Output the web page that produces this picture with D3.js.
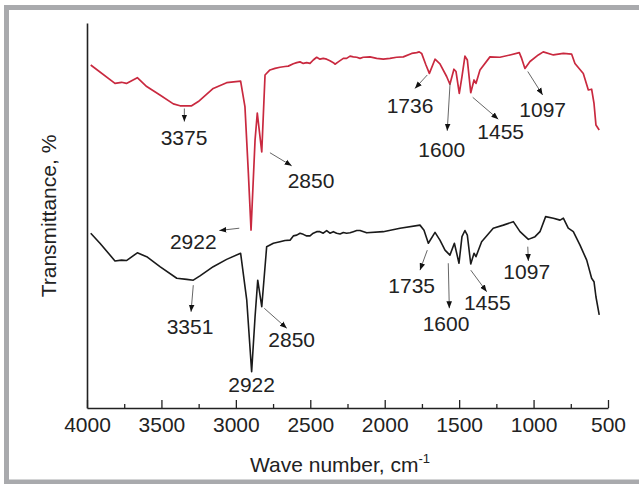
<!DOCTYPE html>
<html><head><meta charset="utf-8">
<script src="https://cdn.jsdelivr.net/npm/d3@7"></script>
<style>body{margin:0;background:#fff;} svg{display:block;font-family:"Liberation Sans",Arial,sans-serif;}</style>
</head><body>
<svg id="c" width="639" height="484"></svg>
<script>
// Wavenumber (cm-1) and transmittance (arbitrary %, offset traces)
const redWave = [3975,3812,3768,3735,3662,3599,3510,3420,3375,3297,3252,3152,3062,2968,2939,2916,2898,2871,2856,2826,2804,2771,2737,2704,2670,2648,2614,2591,2569,2547,2524,2502,2480,2457,2435,2413,2390,2368,2345,2334,2312,2278,2256,2233,2211,2188,2166,2144,2099,2054,2010,1965,1920,1875,1819,1785,1768,1752,1723,1700,1662,1629,1584,1562,1535,1521,1499,1481,1461,1445,1422,1400,1387,1360,1293,1226,1158,1096,1080,1058,1024,968,935,867,800,744,722,666,632,610,594,581,559];
const redT = [89.1,84.3,84.6,84.3,85.8,83.5,81.3,79.0,78.5,78.5,79.6,83.0,84.5,84.9,78.3,61.0,46.2,69.6,76.6,66.5,86.5,87.8,88.2,88.5,88.7,88.8,89.4,89.7,89.9,89.5,89.7,89.5,90.4,91.1,90.6,90.8,90.6,90.2,89.7,89.3,89.9,90.8,90.8,91.4,91.2,91.1,90.8,91.1,91.2,90.8,90.6,90.8,91.1,91.2,92.1,92.3,92.5,92.1,89.1,86.9,90.6,89.4,86.1,84.1,88.0,87.4,81.7,86.1,91.4,90.4,81.9,85.2,84.3,87.8,91.2,91.1,91.7,92.3,90.8,88.2,90.0,91.7,92.5,91.7,92.1,91.9,89.5,86.9,82.6,82.8,79.1,73.5,72.2];
const blackWave = [3975,3913,3812,3768,3735,3662,3599,3510,3397,3330,3286,3241,3152,3062,2968,2927,2894,2871,2853,2826,2793,2748,2704,2670,2636,2614,2591,2569,2547,2524,2502,2480,2457,2435,2413,2390,2368,2345,2323,2300,2278,2256,2233,2211,2188,2166,2121,2010,1897,1763,1736,1707,1662,1629,1595,1562,1532,1501,1481,1461,1445,1422,1400,1387,1349,1271,1203,1136,1091,1035,990,957,919,867,822,800,767,733,688,643,610,594,581,559];
const blackT = [45.4,42.8,38.2,38.4,38.3,40.3,39.3,36.7,33.7,33.4,33.2,34.3,36.7,38.6,40.2,28.1,9.4,23.7,33.2,26.3,41.9,42.8,43.2,43.5,43.6,44.7,44.9,45.4,45.1,44.7,44.7,45.4,45.8,45.8,45.4,46.1,45.4,45.8,45.4,45.2,45.6,45.4,45.5,45.8,46.1,46.1,45.5,45.8,46.7,47.5,46.2,42.8,45.6,43.6,41.0,39.7,42.8,37.6,44.5,46.1,44.9,37.4,40.2,39.3,43.2,46.7,47.5,48.4,45.8,43.8,44.5,45.8,49.7,49.3,48.8,49.3,46.7,45.8,42.3,38.4,33.7,32.8,28.9,24.2];
const xTicks = [4000,3500,3000,2500,2000,1500,1000,500];
const xMinorTicks = [3750,3250,2750,2250,1750,1250,750];
// Peak annotations: label, arrow from (w1,t1) to (w2,t2), label centre (wl,tl)
const annLabels = ["3375","2850","2922","1736","1600","1455","1097","3351","2922","2850","1735","1600","1455","1097"];
const annFrom = [[3346,77.8],[2771,66.3],[2977,46.7],[1714,86.5],[1561,84.3],[1409,80.7],[1039,87.4],[3286,31.9],null,[2809,25.9],[1714,41.0],[1573,37.6],[1422,35.8],[1039,41.9]];
const annTo = [[3346,74.4],[2625,62.9],[3111,46.1],[1797,83.0],[1580,72.0],[1237,75.0],[939,81.3],[3301,25.0],null,[2658,20.7],[1763,35.8],[1566,25.9],[1315,30.2],[1035,38.2]];
const annText = [[3348,70.4],[2495,59.2],[3286,43.2],[1830,78.7],[1617,67.2],[1221,71.8],[939,77.6],[3308,21.1],[2894,6.0],[2625,17.7],[1819,31.9],[1588,22.0],[1311,27.4],[1046,35.4]];

const svg = d3.select("#c");
const x = d3.scaleLinear().domain([4000,500]).range([87,608]);
const y = d3.scaleLinear().domain([0,100]).range([408,23]);

// outer frame
svg.append("rect").attr("x",6.5).attr("y",7.5).attr("width",700).attr("height",474.5)
  .attr("fill","none").attr("stroke","#a9aaad").attr("stroke-width",5);

svg.append("defs").append("marker").attr("id","ah").attr("viewBox","0 0 10 10")
  .attr("refX",10).attr("refY",5).attr("markerWidth",7).attr("markerHeight",7)
  .attr("markerUnits","userSpaceOnUse").attr("orient","auto")
  .append("path").attr("d","M0,1L10,5L0,9Z").attr("fill","#111");

// x axis
const xAxis = d3.axisBottom(x).tickValues(xTicks).tickSizeInner(-8).tickSizeOuter(0).tickPadding(8).tickFormat(d3.format("d"));
const gx = svg.append("g").attr("transform",`translate(0,${y(0)})`).call(xAxis);
gx.select(".domain").attr("stroke","#222").attr("stroke-width",1.6);
gx.selectAll(".tick line").attr("stroke","#222").attr("stroke-width",1.3);
gx.selectAll(".tick text").attr("font-size",21).attr("fill","#222").attr("font-family","Liberation Sans, Arial, sans-serif").attr("dy","0.74em");
const gm = svg.append("g").attr("transform",`translate(0,${y(0)})`)
  .call(d3.axisBottom(x).tickValues(xMinorTicks).tickSizeInner(-4).tickSizeOuter(0).tickFormat(""));
gm.select(".domain").remove();
gm.selectAll(".tick line").attr("stroke","#222").attr("stroke-width",1.3);

// y axis (no ticks)
const gy = svg.append("g").attr("transform",`translate(${x(4000)},0)`)
  .call(d3.axisLeft(y).tickValues([]).tickSizeOuter(0));
gy.select(".domain").attr("stroke","#222").attr("stroke-width",1.6);

// axis titles
const xt = svg.append("text").attr("x",340).attr("y",472).attr("text-anchor","middle")
  .attr("font-size",21).attr("fill","#222");
xt.append("tspan").text("Wave number, cm");
xt.append("tspan").attr("font-size",13).attr("dy",-9).text("-1");
svg.append("text").attr("transform","translate(56,216) rotate(-90)").attr("text-anchor","middle")
  .attr("font-size",21).attr("fill","#222").text("Transmittance, %");

// spectra
const line = d3.line().x(d=>x(d[0])).y(d=>y(d[1]));
svg.append("path").datum(d3.zip(blackWave,blackT)).attr("d",line)
  .attr("fill","none").attr("stroke","#1a1a1a").attr("stroke-width",1.6).attr("stroke-linejoin","round");
svg.append("path").datum(d3.zip(redWave,redT)).attr("d",line)
  .attr("fill","none").attr("stroke","#c9293f").attr("stroke-width",1.7).attr("stroke-linejoin","round");

// annotations
annLabels.forEach((lab,i)=>{
  if(annFrom[i]){
    svg.append("line").attr("x1",x(annFrom[i][0])).attr("y1",y(annFrom[i][1]))
      .attr("x2",x(annTo[i][0])).attr("y2",y(annTo[i][1]))
      .attr("stroke","#555").attr("stroke-width",0.9).attr("marker-end","url(#ah)");
  }
  svg.append("text").attr("x",x(annText[i][0])).attr("y",y(annText[i][1])).attr("dy","0.36em")
    .attr("text-anchor","middle").attr("font-size",21).attr("fill","#222").text(lab);
});
</script>
</body></html>
